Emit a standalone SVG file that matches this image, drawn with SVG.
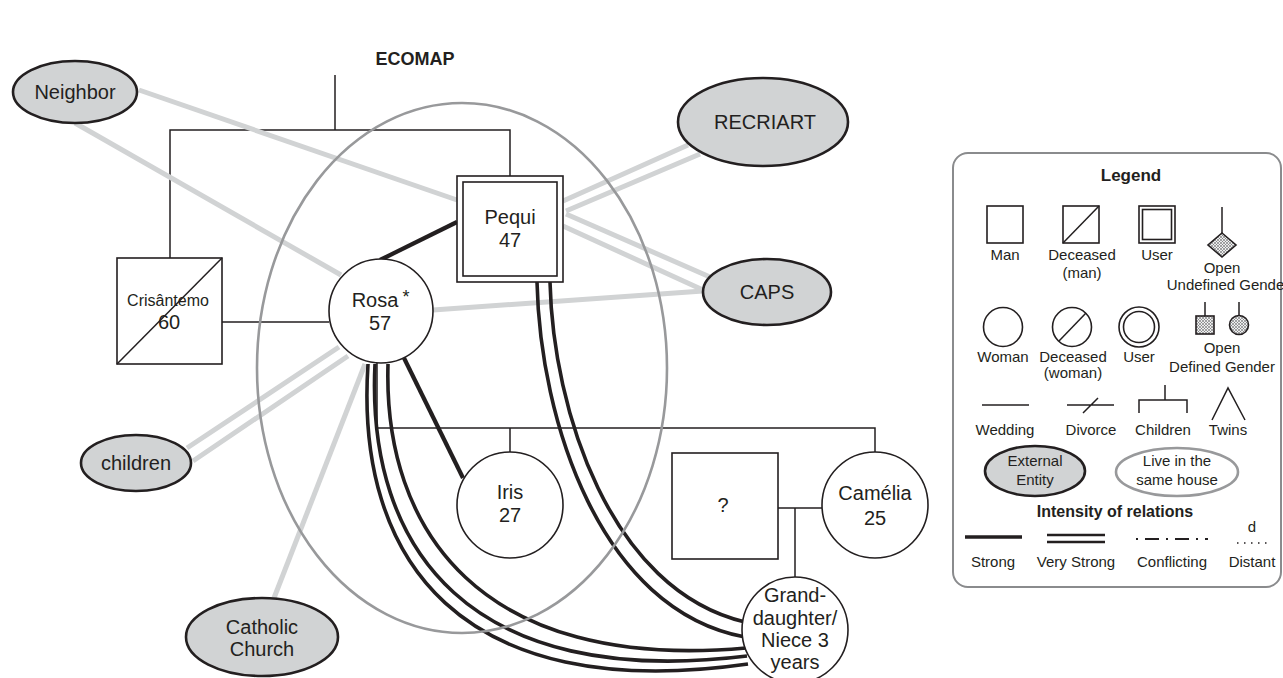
<svg xmlns="http://www.w3.org/2000/svg" width="1283" height="678" viewBox="0 0 1283 678">
<defs>
<style>
text{font-family:"Liberation Sans",Arial,Helvetica,sans-serif;fill:#231f20;text-anchor:middle}
.t{font-size:20px}
.s{font-size:16px}
.l{font-size:15px}
.b{font-weight:bold}
.thin{stroke:#231f20;stroke-width:1.5;fill:none}
.node{fill:#fff;stroke:#231f20;stroke-width:1.6}
.ext{fill:#d1d3d4;stroke:#231f20;stroke-width:2.6}
.weak{stroke:#d1d3d4;stroke-width:5;fill:none}
.strong{stroke:#231f20;stroke-width:4.2;fill:none}
.vs{stroke:#231f20;stroke-width:3.6;fill:none}
.house{fill:none;stroke:#98999b;stroke-width:2.6}
</style>
<pattern id="hatch" patternUnits="userSpaceOnUse" width="3" height="3">
<rect width="3" height="3" fill="#eeeeee"/>
<path d="M0,0 L3,3 M3,0 L0,3" stroke="#6d6e71" stroke-width="0.6"/>
</pattern>
</defs>
<rect width="1283" height="678" fill="#fff"/>
<text class="b" x="415" y="65" style="font-size:18px">ECOMAP</text>

<g id="connectors">
<path class="thin" d="M335,75 V130 M170,258 V130 H510 V176 M222,322 H329 M377,363 V428 H875 V453 M510,428 V452 M775,508 H822 M795,508 V577"/>
<path class="weak" d="M139,90 L457,200"/>
<path class="weak" d="M75,123 L341,275"/>
<path class="weak" d="M563,201 L688,145 M566,211 L700,154"/>
<path class="weak" d="M566,214 L710,277 M563,226 L703,290"/>
<path class="weak" d="M433,310 L703,291"/>
<path class="weak" d="M339,347 L187,448 M348,356 L193,461"/>
<path class="weak" d="M365,364 L274,598"/>
<path class="strong" d="M380,260 L457,222"/>
<path class="strong" d="M404,358 L463,478"/>
<path class="vs" d="M537,282 C540,420 600,610 745,637"/>
<path class="vs" d="M550,282 C553,410 610,590 745,622"/>
<path class="vs" d="M368,364 C355,560 460,705 748,664"/>
<path class="vs" d="M375,364 C366,550 470,690 747,656"/>
<path class="vs" d="M388,364 C383,530 480,672 746,648"/>
</g>

<g id="household">
<ellipse class="house" cx="462" cy="368" rx="205" ry="265"/>
</g>

<g id="neighbor">
<ellipse class="ext" cx="75" cy="92" rx="62" ry="31"/>
<text class="t" x="75" y="99">Neighbor</text>
</g>
<g id="recriart">
<ellipse class="ext" cx="763" cy="122" rx="85" ry="44"/>
<text class="t" x="765" y="129">RECRIART</text>
</g>
<g id="caps">
<ellipse class="ext" cx="767" cy="292" rx="64" ry="33"/>
<text class="t" x="767" y="299">CAPS</text>
</g>
<g id="children">
<ellipse class="ext" cx="136" cy="463" rx="55" ry="28"/>
<text class="t" x="136" y="470">children</text>
</g>
<g id="church">
<ellipse class="ext" cx="262" cy="637" rx="76" ry="39"/>
<text class="t" x="262" y="634">Catholic</text>
<text class="t" x="262" y="656">Church</text>
</g>

<g id="crisantemo">
<rect class="node" x="117" y="258" width="105" height="106"/>
<path class="thin" d="M117,364 L222,258"/>
<text class="s" x="168" y="306">Crisântemo</text>
<text class="t" x="169" y="329">60</text>
</g>
<g id="rosa">
<circle class="node" cx="381" cy="311" r="52"/>
<text class="t" x="375" y="307">Rosa</text>
<text class="t" x="406" y="303" style="font-size:18px">*</text>
<text class="t" x="380" y="330">57</text>
</g>
<g id="pequi">
<rect class="node" x="457" y="176" width="106" height="106"/>
<rect class="node" x="463" y="182" width="94" height="94"/>
<text class="t" x="510" y="224">Pequi</text>
<text class="t" x="510" y="247">47</text>
</g>
<g id="iris">
<circle class="node" cx="510" cy="505" r="53"/>
<text class="t" x="510" y="499">Iris</text>
<text class="t" x="510" y="522">27</text>
</g>
<g id="unknown">
<rect class="node" x="672" y="453" width="106" height="106"/>
<text class="t" x="723" y="512">?</text>
</g>
<g id="camelia">
<circle class="node" cx="875" cy="505" r="53"/>
<text class="t" x="875" y="500">Camélia</text>
<text class="t" x="875" y="525">25</text>
</g>
<g id="granddaughter">
<circle class="node" cx="795" cy="630" r="53"/>
<text class="t" x="795" y="602">Grand-</text>
<text class="t" x="795" y="625">daughter/</text>
<text class="t" x="795" y="647">Niece 3</text>
<text class="t" x="795" y="669">years</text>
</g>

<g id="legend">
<rect x="953" y="153" width="328" height="434" rx="15" fill="#fff" stroke="#8a8b8d" stroke-width="2"/>
<text class="b" x="1131" y="181" style="font-size:17px">Legend</text>
<rect class="node" x="987" y="206" width="36" height="37"/>
<text class="l" x="1005" y="260">Man</text>
<rect class="node" x="1063" y="206" width="36" height="37"/>
<path class="thin" d="M1063,243 L1099,206"/>
<text class="l" x="1082" y="260">Deceased</text>
<text class="l" x="1082" y="278">(man)</text>
<rect class="node" x="1139" y="206" width="36" height="37"/>
<rect class="node" x="1142.5" y="209.5" width="29" height="30"/>
<text class="l" x="1157" y="260">User</text>
<path class="thin" d="M1222,207 V233"/>
<polygon points="1222,233 1236,245 1222,257 1208,245" fill="url(#hatch)" stroke="#231f20" stroke-width="1.6"/>
<text class="l" x="1222" y="273">Open</text>
<text class="l" x="1228" y="290">Undefined Gender</text>

<circle class="node" cx="1003" cy="327" r="19.5"/>
<text class="l" x="1003" y="362">Woman</text>
<circle class="node" cx="1072" cy="327" r="19.5"/>
<path class="thin" d="M1059,341 L1086,313"/>
<text class="l" x="1073" y="362">Deceased</text>
<text class="l" x="1073" y="378">(woman)</text>
<circle class="node" cx="1139" cy="327" r="20"/>
<circle class="node" cx="1139" cy="327" r="15.5"/>
<text class="l" x="1139" y="362">User</text>
<path class="thin" d="M1205,302 V316 M1239,302 V316"/>
<rect x="1196" y="316" width="18" height="18" fill="url(#hatch)" stroke="#231f20" stroke-width="1.6"/>
<circle cx="1239" cy="325" r="9.5" fill="url(#hatch)" stroke="#231f20" stroke-width="1.6"/>
<text class="l" x="1222" y="353">Open</text>
<text class="l" x="1222" y="372">Defined Gender</text>

<path class="thin" d="M982,405 H1029"/>
<text class="l" x="1005" y="435">Wedding</text>
<path class="thin" d="M1067,405 H1114 M1083,413 L1098,398"/>
<text class="l" x="1091" y="435">Divorce</text>
<path class="thin" d="M1139,413 V400 H1187 V413 M1165,400 V385"/>
<text class="l" x="1163" y="435">Children</text>
<path class="thin" d="M1212,420 L1228,388 L1245,420"/>
<text class="l" x="1228" y="435">Twins</text>

<ellipse class="ext" cx="1035" cy="471" rx="50" ry="25"/>
<text class="l" x="1035" y="466">External</text>
<text class="l" x="1035" y="485">Entity</text>
<ellipse class="house" cx="1177" cy="472" rx="61" ry="24" stroke-width="2"/>
<text class="l" x="1177" y="466">Live in the</text>
<text class="l" x="1177" y="485">same house</text>

<text class="b" x="1115" y="517" style="font-size:16px">Intensity of relations</text>
<path d="M965,537 H1022" stroke="#231f20" stroke-width="3.5"/>
<path d="M1047,535 H1105 M1047,542 H1105" stroke="#231f20" stroke-width="2.5"/>
<path d="M1136,539 H1208" stroke="#231f20" stroke-width="2" stroke-dasharray="2 7 14 7"/>
<path d="M1237,543 H1271" stroke="#231f20" stroke-width="1.5" stroke-dasharray="1.5 5.5"/>
<text class="l" x="1252" y="532">d</text>
<text class="l" x="993" y="567">Strong</text>
<text class="l" x="1076" y="567">Very Strong</text>
<text class="l" x="1172" y="567">Conflicting</text>
<text class="l" x="1252" y="567">Distant</text>
</g>
</svg>
